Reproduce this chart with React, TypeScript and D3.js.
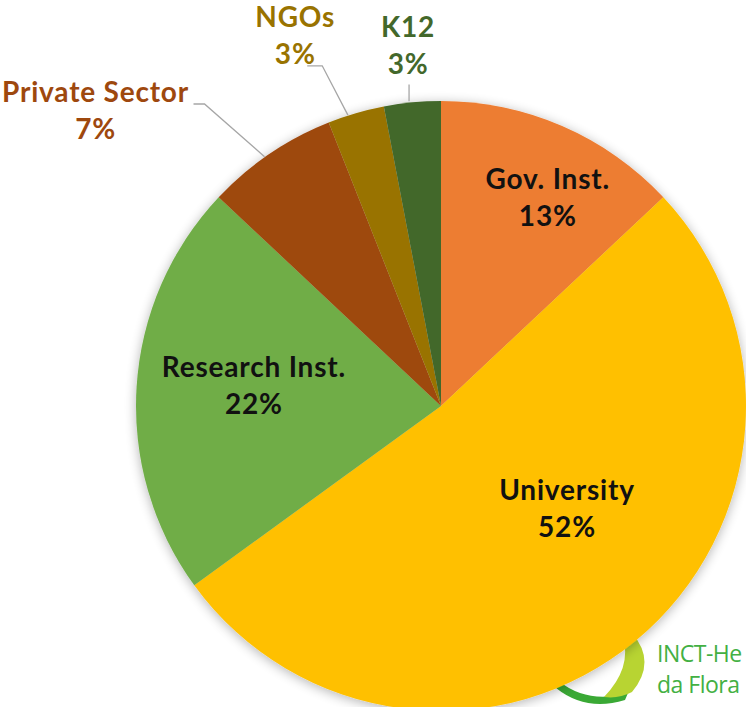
import React from "react";
import * as d3 from "d3";

// slice data, clockwise from 12 o'clock
const categories = ["Gov. Inst.", "University", "Research Inst.", "Private Sector", "NGOs", "K12"];
const shares = [13, 52, 22, 7, 3, 3];
const colors = ["#ED7D31", "#FFC000", "#70AD47", "#9E480E", "#997300", "#43682B"];

const width = 746;
const height = 707;
const cx = 441;
const cy = 406;
const radius = 305;

// label placement: angle nudge (deg) and distance from centre, per slice
// leader: start offset from label centre, end offset from slice edge midpoint
const labelLayout = [
  { dAngle: 4, r: 232, leader: null },
  { dAngle: -10.6, r: 164, leader: null },
  { dAngle: 1.9, r: 188, leader: null },
  { dAngle: -15.5, r: 453, leader: { start: [98, -9], end: [-5, 3], elbow: 11 } },
  { dAngle: -5.4, r: 396, leader: { start: [12, 28], end: [-8, 2], elbow: 15 } },
  { dAngle: 0.15, r: 360, leader: { start: [1, 37], end: [-3, -1], elbow: 0 } },
];

const toXY = (angleDeg: number, r: number) => {
  const a = (angleDeg * Math.PI) / 180;
  return [r * Math.sin(a), -r * Math.cos(a)];
};

// partly hidden logo in the lower right corner
const Logo = () => (
  <g>
    <path d="M 560 682 Q 588 704 628 693 L 625 700 Q 586 712 556 688 Z" fill="#3AA935" />
    <path
      d="M 632 633 Q 657 662 632 692 Q 619 699 604 697 Q 632 668 623 637 Z"
      fill="#B8D432"
    />
    <text
      x={657}
      y={662}
      fontFamily="'Open Sans', sans-serif"
      fontSize={23}
      letterSpacing={-0.5}
      fill="#43B043"
    >
      INCT-He
    </text>
    <text
      x={657}
      y={693}
      fontFamily="'Open Sans', sans-serif"
      fontSize={23}
      letterSpacing={-0.5}
      fill="#43B043"
    >
      da Flora
    </text>
  </g>
);

export default function App() {
  const pie = d3
    .pie<number>()
    .sort(null)
    .value((d) => d);
  const arcs = pie(shares);
  const arc = d3.arc<d3.PieArcDatum<number>>().innerRadius(0).outerRadius(radius);

  return (
    <svg
      width={width}
      height={height}
      style={{ position: "absolute", left: 0, top: 0, background: "#fff" }}
    >
      <defs>
        <filter id="shadow" x="-10%" y="-10%" width="120%" height="120%">
          <feGaussianBlur in="SourceAlpha" stdDeviation="6" />
          <feOffset dx="0" dy="2" result="blur" />
          <feComponentTransfer>
            <feFuncA type="linear" slope="0.3" />
          </feComponentTransfer>
          <feMerge>
            <feMergeNode />
            <feMergeNode in="SourceGraphic" />
          </feMerge>
        </filter>
      </defs>
      <Logo />
      <g transform={`translate(${cx},${cy})`}>
        <g filter="url(#shadow)">
          {arcs.map((a, i) => (
            <path key={i} d={arc(a) || ""} fill={colors[i]} />
          ))}
        </g>
        {arcs.map((a, i) => {
          const lay = labelLayout[i];
          const mid = ((a.startAngle + a.endAngle) / 2) * (180 / Math.PI);
          const [lx, ly] = toXY(mid + lay.dAngle, lay.r);
          const fill = lay.leader ? colors[i] : "#111";
          let leader = null;
          if (lay.leader) {
            const [ex, ey] = toXY(mid, radius);
            const sx = lx + lay.leader.start[0];
            const sy = ly + lay.leader.start[1];
            const pts: [number, number][] = [
              [sx, sy],
              [sx + lay.leader.elbow, sy],
              [ex + lay.leader.end[0], ey + lay.leader.end[1]],
            ];
            if (lay.leader.elbow === 0) pts[2][0] = sx;
            leader = (
              <path
                d={d3.line()(pts) || ""}
                fill="none"
                stroke="#A6A6A6"
                strokeWidth={1.3}
              />
            );
          }
          return (
            <g key={i}>
              {leader}
              <text
                textAnchor="middle"
                fontFamily="Lato, 'Open Sans', sans-serif"
                fontWeight="bold"
                fontSize={28}
                letterSpacing={0.8}
                fill={fill}
              >
                <tspan x={lx} y={ly - 11}>
                  {categories[i]}
                </tspan>
                <tspan x={lx} y={ly + 26}>
                  {shares[i]}%
                </tspan>
              </text>
            </g>
          );
        })}
      </g>
    </svg>
  );
}
